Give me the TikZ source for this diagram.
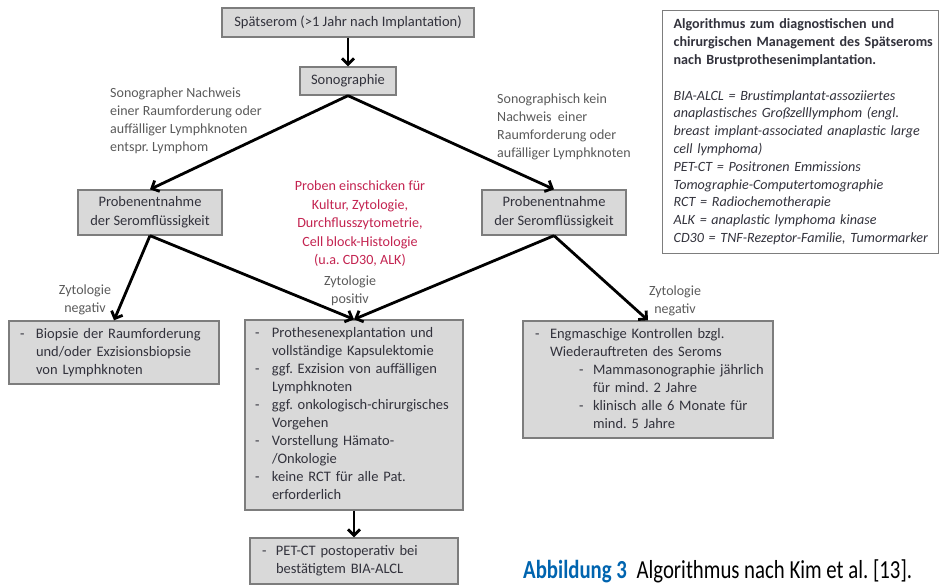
\documentclass[tikz,border=0pt]{standalone}
\usepackage{fontspec}
\setmainfont{Carlito}
\usepackage{graphicx}
\usepackage{tikz}
\usetikzlibrary{arrows.meta}
\definecolor{boxgrey}{RGB}{217,217,217}
\definecolor{linegrey}{RGB}{125,125,125}
\definecolor{textgrey}{RGB}{50,50,60}
\definecolor{notegrey}{RGB}{90,90,90}
\definecolor{probered}{RGB}{195,35,80}
\definecolor{capblue}{RGB}{0,100,175}
\newcommand{\boxfont}{\fontsize{14.5}{18}\selectfont}
\newcommand{\notefont}{\fontsize{14}{18}\selectfont}
\newcommand{\legfont}{\fontsize{14.1}{17.8}\selectfont}
\frenchspacing

\begin{document}
\begin{tikzpicture}[x=1pt, y=-1pt,
  stepbox/.style={draw=linegrey, line width=1.3pt, fill=boxgrey, text=textgrey,
    font=\boxfont, inner sep=0pt},
  listbox/.style={stepbox, align=left, inner ysep=0pt},
  note/.style={text=notegrey, font=\notefont, inner sep=0pt},
  flow/.style={line width=2.8pt, -{Straight Barb[length=6pt,width=12pt]}}]
  \useasboundingbox (0,0) rectangle (941,585);

  % Start and ultrasound
  \node[stepbox, minimum width=252pt, minimum height=29pt] (spaet) at (348,22.5)
    {Spätserom (>1 Jahr nach Implantation)};
  \node[stepbox, minimum width=96pt, minimum height=28pt] (sono) at (348,81)
    {Sonographie};

  % Findings
  \node[note, anchor=north west] (befundL) at (110,84.5)
    {\begin{tabular}{@{}l@{}}Sonographer Nachweis\\einer Raumforderung oder\\
     auffälliger Lymphknoten\\entspr. Lymphom\end{tabular}};
  \node[note, anchor=north west] (befundR) at (497,91)
    {\begin{tabular}{@{}l@{}}Sonographisch kein\\Nachweis\ \ einer\\
     Raumforderung oder\\aufälliger Lymphknoten\end{tabular}};

  % Sampling
  \node[stepbox, minimum width=144pt, minimum height=45pt] (probeL) at (150,212.5)
    {\fontsize{14.5}{19}\selectfont\begin{tabular}{@{}c@{}}Probenentnahme\\der Seromflüssigkeit\end{tabular}};
  \node[stepbox, minimum width=144pt, minimum height=45pt] (probeR) at (554,212.5)
    {\fontsize{14.5}{19}\selectfont\begin{tabular}{@{}c@{}}Probenentnahme\\der Seromflüssigkeit\end{tabular}};
  \node[note, text=probered, font=\fontsize{14.1}{18.5}\selectfont] (labor) at (360,224)
    {\begin{tabular}{@{}c@{}}Proben einschicken für\\Kultur, Zytologie,\\
     Durchflusszytometrie,\\Cell block-Histologie\\(u.a. CD30, ALK)\end{tabular}};

  % Cytology results
  \node[note] (negL) at (85,300)
    {\begin{tabular}{@{}c@{}}Zytologie\\negativ\end{tabular}};
  \node[note] (pos) at (350,290.5)
    {\begin{tabular}{@{}c@{}}Zytologie\\positiv\end{tabular}};
  \node[note] (negR) at (675,301)
    {\begin{tabular}{@{}c@{}}Zytologie\\negativ\end{tabular}};

  % Management boxes
  \node[listbox, text width=188pt, inner xsep=11pt, minimum height=63pt] (biopsie) at (114,352.5)
    {\begin{tabular}{@{}p{16pt}@{}l@{}}
     - & Biopsie der Raumforderung\\
       & und/oder Exzisionsbiopsie\\
       & von Lymphknoten
     \end{tabular}};
  \node[listbox, text width=198pt, inner xsep=10pt, minimum height=190pt] (explant) at (354,415)
    {\begin{tabular}{@{}p{17pt}@{}l@{}}
     - & Prothesenexplantation und\\
       & vollständige Kapsulektomie\\
     - & ggf. Exzision von auffälligen\\
       & Lymphknoten\\
     - & ggf. onkologisch-chirurgisches\\
       & Vorgehen\\
     - & Vorstellung Hämato-\\
       & /Onkologie\\
     - & keine RCT für alle Pat.\\
       & erforderlich
     \end{tabular}};
  \node[listbox, text width=226pt, inner xsep=12pt, minimum height=117pt] (kontrolle) at (648,379.5)
    {\begin{tabular}{@{}p{15pt}@{}p{29pt}@{}p{14pt}@{}l@{}}
     - & \multicolumn{3}{@{}l@{}}{Engmaschige Kontrollen bzgl.}\\
       & \multicolumn{3}{@{}l@{}}{Wiederauftreten des Seroms}\\
       & & - & Mammasonographie jährlich\\
       & & & für mind. 2 Jahre\\
       & & - & klinisch alle 6 Monate für\\
       & & & mind. 5 Jahre
     \end{tabular}};
  \node[listbox, text width=184pt, inner xsep=12pt, minimum height=46pt] (pet) at (354,561)
    {\begin{tabular}{@{}p{14pt}@{}l@{}}
     - & PET-CT postoperativ bei\\
       & bestätigtem BIA-ALCL
     \end{tabular}};

  % Arrows
  \foreach \a/\b in {spaet/sono, sono/probeL, sono/probeR, probeL/biopsie,
    probeL/explant, probeR/explant, probeR/kontrolle, explant/pet}{
    \draw[flow] (\a.south) -- (\b.north);
  }

  % Legend
  \node[draw=linegrey, line width=1.3pt, fill=white, anchor=north west, text width=254pt,
    inner xsep=11pt, inner ysep=0pt, minimum height=243pt, align=left, font=\legfont,
    text=textgrey] (legende) at (662,10)
    {\begin{tabular}{@{}l@{}}
     \textbf{Algorithmus zum diagnostischen und}\\
     \textbf{chirurgischen Management des Spätseroms}\\
     \textbf{nach Brustprothesenimplantation.}\\
     \\
     \textit{BIA-ALCL = Brustimplantat-assoziiertes}\\
     \textit{anaplastisches Großzelllymphom (engl.}\\
     \textit{breast implant-associated anaplastic large}\\
     \textit{cell lymphoma)}\\
     \textit{PET-CT = Positronen Emmissions}\\
     \textit{Tomographie-Computertomographie}\\
     \textit{RCT = Radiochemotherapie}\\
     \textit{ALK = anaplastic lymphoma kinase}\\
     \textit{CD30 = TNF-Rezeptor-Familie, Tumormarker}
     \end{tabular}};

  % Caption
  \node[anchor=base west, inner sep=0pt] (caption) at (523,578)
    {\scalebox{0.8}[1]{\fontsize{26}{26}\selectfont\textcolor{capblue}{\textbf{Abbildung 3}}\hspace{12pt}Algorithmus nach Kim et al. [13].}};
\end{tikzpicture}
\end{document}
